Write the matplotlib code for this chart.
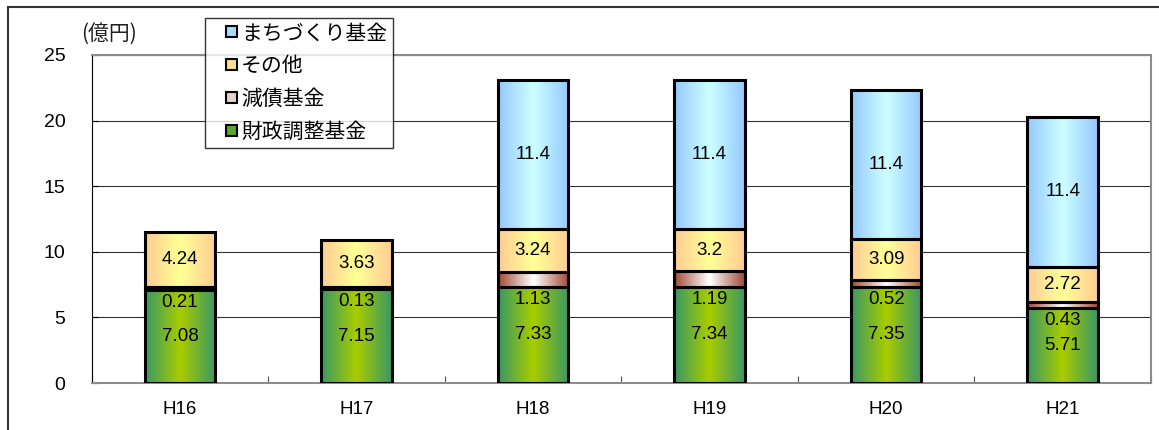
import numpy as np
import matplotlib
matplotlib.use("Agg")
import matplotlib.pyplot as plt
from matplotlib.colors import LinearSegmentedColormap
from matplotlib.patches import Patch, Rectangle
from matplotlib.lines import Line2D
from matplotlib.legend_handler import HandlerPatch

plt.rcParams["font.family"] = ["Liberation Sans", "Noto Sans CJK JP", "DejaVu Sans"]

# data (億円)
categories = ["H16", "H17", "H18", "H19", "H20", "H21"]
zaisei = [7.08, 7.15, 7.33, 7.34, 7.35, 5.71]    # 財政調整基金
gensai = [0.21, 0.13, 1.13, 1.19, 0.52, 0.43]    # 減債基金
sonota = [4.24, 3.63, 3.24, 3.2, 3.09, 2.72]     # その他
machi = [0, 0, 11.4, 11.4, 11.4, 11.4]           # まちづくり基金

series = [
    ("財政調整基金", zaisei, "#3a9866", "#a8cc00", "#5aa832"),
    ("減債基金", gensai, "#a24a36", "#ffffff", "#e8d0cc"),
    ("その他", sonota, "#ffcc94", "#ffff96", "#ffe090"),
    ("まちづくり基金", machi, "#96c8ff", "#ccffff", "#a8dcff"),
]

fig = plt.figure(figsize=(11.59, 4.30), dpi=100)
ax = fig.add_axes([0.0791, 0.1093, 0.9140, 0.7628])

x = np.arange(len(categories))
width = 0.4
bottom = np.zeros(len(categories))
grad = np.concatenate([np.linspace(0, 1, 50), np.linspace(1, 0, 50)]).reshape(1, -1)

for name, vals, edge_c, mid_c, _ in series:
    vals = np.array(vals, dtype=float)
    cmap = LinearSegmentedColormap.from_list(name, [edge_c, mid_c])
    bars = ax.bar(x, vals, width, bottom=bottom, color="none",
                  edgecolor="black", linewidth=2.2, zorder=4)
    for i, (b, v) in enumerate(zip(bars, vals)):
        if v <= 0:
            b.set_visible(False)
            continue
        bx, by = b.get_x(), b.get_y()
        ax.imshow(grad, cmap=cmap, aspect="auto", interpolation="bicubic",
                  extent=[bx, bx + b.get_width(), by, by + b.get_height()],
                  zorder=3)
        if name == "減債基金":
            ax.annotate(f"{v:g}", (x[i], by), xytext=(0, -3),
                        textcoords="offset points", ha="center", va="top",
                        fontsize=13.5, zorder=5)
        else:
            ax.text(x[i], by + v / 2, f"{v:g}", ha="center", va="center",
                    fontsize=13.5, zorder=5)
    bottom += vals

ax.set_xlim(-0.5, len(categories) - 0.5)
ax.set_ylim(0, 25)
ax.set_yticks([0, 5, 10, 15, 20, 25])
ax.tick_params(axis="y", labelsize=14, direction="in", length=4, pad=19)
ax.yaxis.grid(True, color="#333333", linewidth=0.8)
ax.set_axisbelow(True)

# category labels at centres, small tick marks at boundaries
ax.set_xticks(np.arange(len(categories) + 1) - 0.5)
ax.set_xticklabels([])
ax.tick_params(axis="x", which="major", direction="in", length=5, color="#555555")
ax.set_xticks(x, minor=True)
ax.set_xticklabels(categories, minor=True, fontsize=13.5)
ax.tick_params(axis="x", which="minor", length=0, pad=13)

ax.spines["left"].set_color("black")
for s in ("top", "right", "bottom"):
    ax.spines[s].set_color("#8c8c8c")
    ax.spines[s].set_linewidth(1.5)

ax.text(0.016, 1.066, "(億円)", transform=ax.transAxes, ha="center",
        va="center", fontsize=15, color="#222222",
        family=["Noto Sans CJK JP", "DejaVu Sans"])


def square_patch(legend, orig_handle, xdescent, ydescent, width, height, fontsize):
    s = 8.0
    return Rectangle((-xdescent + width - s, -ydescent + (height - s) / 2), s, s)


handles = [Patch(facecolor=leg_c, edgecolor="black", linewidth=1.5, label=name)
           for name, _, _, _, leg_c in series[::-1]]
leg = ax.legend(handles=handles, loc="upper left", bbox_to_anchor=(0.1066, 1.113),
                borderaxespad=0, fontsize=15, frameon=True, fancybox=False,
                handlelength=1.25, handleheight=0.7, handletextpad=0.2,
                labelspacing=0.65, borderpad=0.3, edgecolor="black",
                handler_map={Patch: HandlerPatch(patch_func=square_patch)})
leg.get_frame().set_linewidth(1.0)
leg.set_zorder(6)

# outer frame (top and left edges)
fig.add_artist(Line2D([0.0069, 1.0], [0.9837, 0.9837], color="#333333", linewidth=1.5))
fig.add_artist(Line2D([0.0069, 0.0069], [0.0, 0.9837], color="#333333", linewidth=1.5))

fig.savefig("out.png", dpi=100)
